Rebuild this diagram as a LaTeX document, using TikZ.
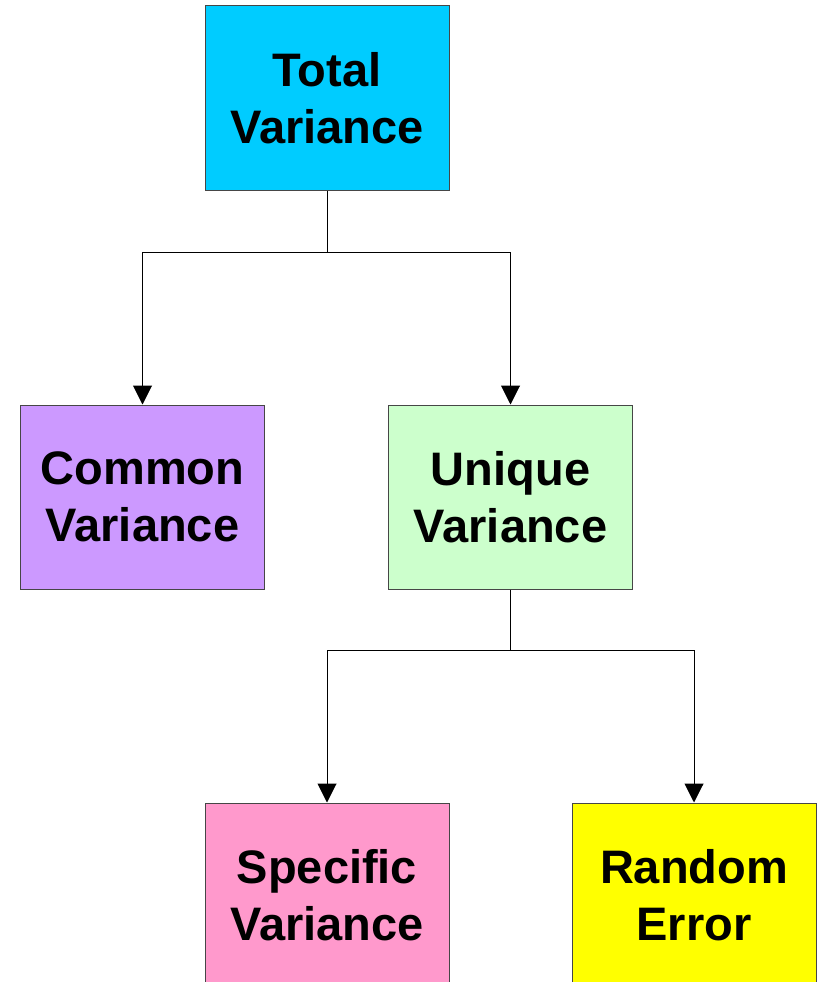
\documentclass[tikz,border=0pt]{standalone}
\usepackage{fontspec}
\setmainfont{Liberation Sans}
\usepackage{xcolor}
\usepackage{tikz}
\usetikzlibrary{arrows.meta, positioning, calc}
\definecolor{TotalCyan}{RGB}{0, 204, 255}
\definecolor{CommonLilac}{RGB}{204, 153, 255}
\definecolor{UniqueMint}{RGB}{204, 255, 204}
\definecolor{SpecificPink}{RGB}{255, 153, 204}
\definecolor{ErrorYellow}{RGB}{255, 255, 0}
\definecolor{BoxEdge}{RGB}{70, 70, 70}

\tikzset{
  varbox/.style={
    draw=BoxEdge,
    line width=1pt,
    minimum width=244pt,
    minimum height=184pt,
    inner sep=0pt,
    align=center,
    font=\fontsize{47}{57}\selectfont\bfseries
  },
  link/.style={
    line width=1pt,
    -{Triangle[width=19pt,length=19pt]}
  }
}

\begin{document}
\begin{tikzpicture}[x=1pt, y=1pt]
  \useasboundingbox (0,0) rectangle (817,-982);

  \node[varbox, fill=TotalCyan] (total) at (327,-98) {Total\\Variance};
  \node[varbox, fill=CommonLilac] (common) at (142.5,-497) {Common\\Variance};
  \node[varbox, fill=UniqueMint] (unique) at (510.5,-497) {Unique\\Variance};
  \node[varbox, fill=SpecificPink] (specific) at (327,-895) {Specific\\Variance};
  \node[varbox, fill=ErrorYellow] (error) at (694,-895) {Random\\Error};

  % split of the total variance
  \coordinate (split1) at ($(total.south)+(0,-62)$);
  \draw[line width=1pt] (total.south) -- (split1);
  \draw[link] (split1) -| (common);
  \draw[link] (split1) -| (unique);

  % split of the unique variance
  \coordinate (split2) at ($(unique.south)+(0,-61)$);
  \draw[line width=1pt] (unique.south) -- (split2);
  \draw[link] (split2) -| (specific);
  \draw[link] (split2) -| (error);
\end{tikzpicture}
\end{document}
